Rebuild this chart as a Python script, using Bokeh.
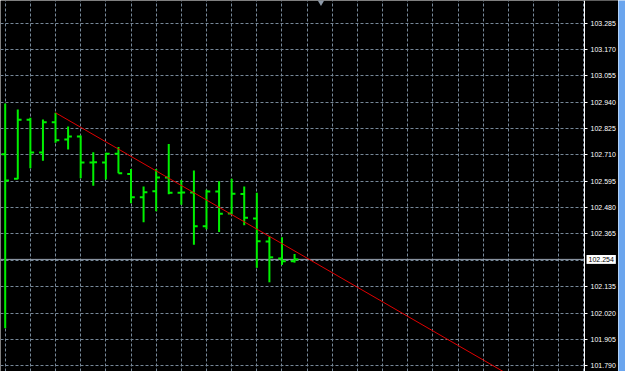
from bokeh.plotting import figure
from bokeh.models import (Range1d, FixedTicker, Span, Label, PrintfTickFormatter,
                          ColumnDataSource, BoxAnnotation)
from bokeh.layouts import row
from bokeh.embed import file_html
from bokeh.resources import INLINE

# ---- data ----
bar_index = list(range(24))
opens = [102.713, 102.606, 102.863, 102.720, 102.853, 102.777, 102.790, 102.677,
         102.677, 102.715, 102.627, 102.525, 102.551, 102.611, 102.545, 102.546,
         102.399, 102.550, 102.454, 102.539, 102.433, 102.332, 102.258, 102.246]
highs = [102.934, 102.908, 102.872, 102.864, 102.894, 102.834, 102.795, 102.722,
         102.719, 102.744, 102.649, 102.572, 102.649, 102.758, 102.601, 102.642,
         102.558, 102.595, 102.606, 102.572, 102.545, 102.354, 102.351, 102.278]
lows = [101.954, 102.604, 102.652, 102.684, 102.763, 102.734, 102.608, 102.575,
        102.603, 102.630, 102.499, 102.416, 102.464, 102.538, 102.493, 102.318,
        102.386, 102.374, 102.450, 102.403, 102.217, 102.154, 102.230, 102.240]
closes = [102.598, 102.863, 102.720, 102.853, 102.774, 102.790, 102.677, 102.678,
          102.715, 102.630, 102.525, 102.547, 102.611, 102.545, 102.546, 102.399,
          102.550, 102.453, 102.540, 102.436, 102.333, 102.263, 102.246, 102.254]
price_ticks = [103.285, 103.170, 103.055, 102.940, 102.825, 102.710, 102.595,
               102.480, 102.365, 102.135, 102.020, 101.905, 101.790]
grid_levels = [103.285, 103.170, 103.055, 102.940, 102.825, 102.710, 102.595,
               102.480, 102.365, 102.250, 102.135, 102.020, 101.905, 101.790]
time_grid = list(range(0, 48, 2))
current_price = 102.254
current_price_label = "102.254"
trend_x = [4, 46]
trend_y = [102.894, 101.561]
shift_marker_x = [25.1]
shift_marker_y = [103.377]

# ---- layout constants ----
X_MIN, X_AXIS, X_MAX = -0.374, 46.05, 48.75
BAR = "#00f000"
GRID = "#778899"
TICK = 0.3

p = figure(width=618, height=371, output_backend="svg", toolbar_location=None,
           x_range=Range1d(X_MIN, X_MAX), y_range=Range1d(101.7647, 103.3839),
           x_axis_location=None, y_axis_location="right", min_border=0)
p.background_fill_color = "black"
p.border_fill_color = "black"
p.outline_line_color = None

ax = p.yaxis[0]
ax.fixed_location = X_AXIS
ax.ticker = FixedTicker(ticks=price_ticks)
ax.formatter = PrintfTickFormatter(format="%.3f")
ax.axis_line_color = "white"
ax.axis_line_width = 1
ax.major_tick_line_color = "white"
ax.major_tick_in = 0
ax.major_tick_out = 3
ax.minor_tick_line_color = None
ax.major_label_standoff = 3
ax.major_label_text_color = "white"
ax.major_label_text_font = "Liberation Sans"
ax.major_label_text_font_size = "7px"

p.ygrid.ticker = FixedTicker(ticks=grid_levels)
p.xgrid.ticker = FixedTicker(ticks=time_grid)
for g in (p.xgrid[0], p.ygrid[0]):
    g.grid_line_color = GRID
    g.grid_line_dash = "3 2"
    g.grid_line_width = 1

p.add_layout(Span(location=current_price, dimension="width",
                  line_color="#9aa6b4", line_width=1, level="underlay"))

src = ColumnDataSource(dict(
    x=bar_index, o=opens, h=highs, l=lows, c=closes,
    xl=[i - TICK for i in bar_index], xr=[i + TICK for i in bar_index]))
p.segment(x0="x", y0="l", x1="x", y1="h", source=src, line_color=BAR, line_width=2)
p.segment(x0="xl", y0="o", x1="x", y1="o", source=src, line_color=BAR, line_width=2)
p.segment(x0="x", y0="c", x1="xr", y1="c", source=src, line_color=BAR, line_width=2)

p.line(trend_x, trend_y, line_color="#e00000", line_width=1)

p.scatter(shift_marker_x, shift_marker_y, marker="inverted_triangle", size=7,
          fill_color="#8d99a8", line_color=None)

# black price-scale area (covers grid lines to the right of the scale line)
p.add_layout(BoxAnnotation(left=X_AXIS, fill_color="black", fill_alpha=1.0,
                           line_color=None, level="glyph"))

p.add_layout(Label(x=X_AXIS + 0.16, y=current_price, text=current_price_label,
                   text_font="Liberation Sans", text_font_size="7px",
                   text_color="black", text_baseline="middle", text_align="left",
                   background_fill_color="white", padding=2))

strip = figure(width=7, height=371, output_backend="svg", toolbar_location=None,
               x_axis_location=None, y_axis_location=None, min_border=0)
strip.background_fill_color = "#6aa5ee"
strip.border_fill_color = "#6aa5ee"
strip.outline_line_color = None
strip.grid.visible = False

layout = row(p, strip, spacing=0)
open("out.html", "w").write(file_html(layout, INLINE))
